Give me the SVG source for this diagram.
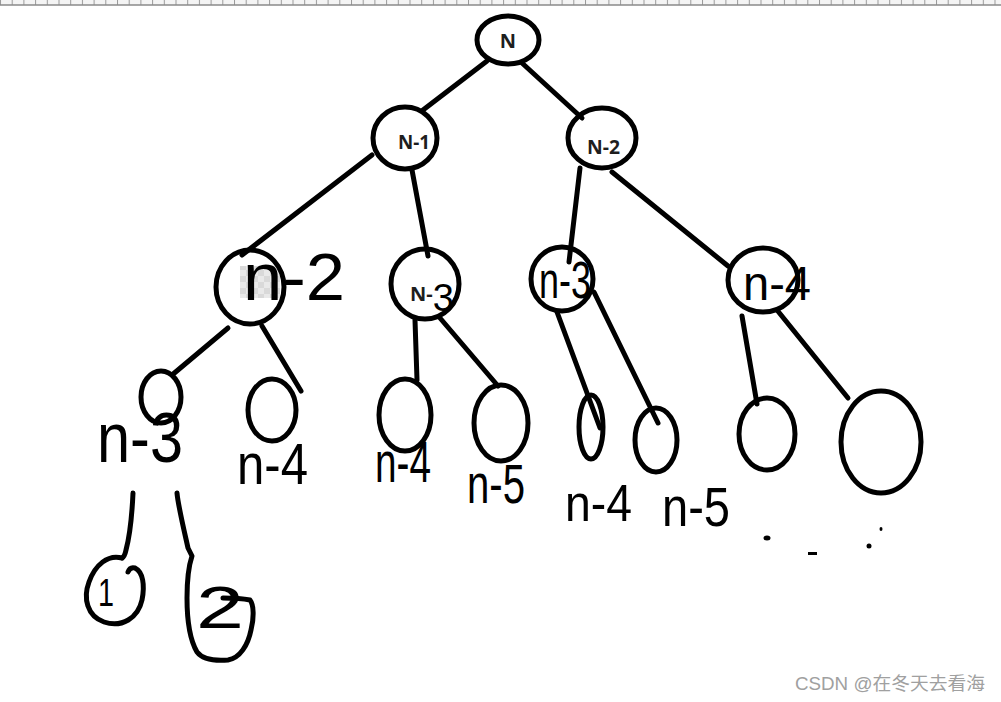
<svg xmlns="http://www.w3.org/2000/svg" width="1001" height="702" viewBox="0 0 1001 702">
<style>
.node{fill:none;stroke:#000;stroke-width:5}
.edge{fill:none;stroke:#000;stroke-width:5;stroke-linecap:round;stroke-linejoin:round}
.typed{font-family:"Open Sans","DejaVu Sans",sans-serif;font-weight:bold;font-size:20px;fill:#1e1e1e}
.hand{font-family:"Liberation Sans",Arial,sans-serif;fill:#000;font-weight:normal}
.wm{font-family:"Liberation Sans","Noto Sans CJK SC",sans-serif;font-size:18px;fill:#a0a0a0}
</style>
<defs>
<pattern id="ruler" x="0" y="0" width="11.7" height="6" patternUnits="userSpaceOnUse">
<rect x="0" y="0" width="11.7" height="6" fill="#f4f4f4"/>
<line x1="0.5" y1="0" x2="0.5" y2="5" stroke="#9a9a9a" stroke-width="1"/>
</pattern>
<pattern id="checker" x="0" y="0" width="12" height="12" patternUnits="userSpaceOnUse">
<rect width="12" height="12" fill="#e4e4e4"/>
<rect width="6" height="6" fill="#cfcfcf"/>
<rect x="6" y="6" width="6" height="6" fill="#cfcfcf"/>
</pattern>
</defs>
<rect width="1001" height="702" fill="#fff"/>
<rect x="0" y="0" width="1001" height="5" fill="url(#ruler)"/>
<line x1="0" y1="5" x2="1001" y2="5" stroke="#8a8a8a" stroke-width="1.5"/>

<g id="connectors">
<path class="edge" d="M487,61 L423,110"/>
<path class="edge" d="M522,63 L582,118"/>
<path class="edge" d="M372,155 L242,255"/>
<path class="edge" d="M412,170 L428,256"/>
<path class="edge" d="M580,168 L569,262"/>
<path class="edge" d="M612,172 L728,266"/>
<path class="edge" d="M228,328 L172,375"/>
<path class="edge" d="M262,326 L301,391"/>
<path class="edge" d="M415,320 L417,380"/>
<path class="edge" d="M440,318 L498,386"/>
<path class="edge" d="M557,312 L600,428"/>
<path class="edge" d="M594,292 L658,423"/>
<path class="edge" d="M742,316 L757,404"/>
<path class="edge" d="M777,310 L848,398"/>
<path class="edge" d="M133,493 C132,515 130,535 126,550 C125,555 124,557 122,558"/>
<path class="edge" d="M177,493 C178,505 184,530 188,548 L192,556 C188,568 187,580 187,598 C187,618 190,640 197,652 C203,660 215,661 228,660 C240,658 248,645 251,630 C254,618 254,605 250,600 C240,598 232,598 223,598"/>
</g>

<g id="node-N">
<ellipse class="node" cx="508" cy="40" rx="31" ry="24"/>
<text class="typed" x="508" y="48" text-anchor="middle">N</text>
</g>
<g id="node-N-1">
<ellipse class="node" cx="405" cy="138" rx="32" ry="31"/>
<text class="typed" x="398" y="149" textLength="32" lengthAdjust="spacingAndGlyphs">N-1</text>
</g>
<g id="node-N-2">
<ellipse class="node" cx="602" cy="138" rx="34" ry="30"/>
<text class="typed" x="587" y="154" textLength="33" lengthAdjust="spacingAndGlyphs">N-2</text>
</g>

<g id="node-n-2">
<rect x="240" y="266" width="40" height="32" fill="url(#checker)" opacity="0.8"/>
<ellipse class="node" cx="250" cy="287" rx="34" ry="37"/>
<text class="hand" x="243" y="300" font-size="66" textLength="102" lengthAdjust="spacingAndGlyphs">n-2</text>
</g>
<g id="node-N-3">
<ellipse class="node" cx="425" cy="284" rx="34" ry="35"/>
<text class="typed" x="410" y="301">N-<tspan class="hand" font-size="38" dy="10">3</tspan></text>
</g>
<g id="node-n-3">
<ellipse class="node" cx="562" cy="279" rx="31" ry="32"/>
<text class="hand" x="539" y="298" font-size="52" textLength="52" lengthAdjust="spacingAndGlyphs">n-3</text>
</g>
<g id="node-n-4">
<ellipse class="node" cx="763" cy="280" rx="35" ry="32"/>
<text class="hand" x="743" y="300" font-size="48" textLength="68" lengthAdjust="spacingAndGlyphs">n-4</text>
</g>

<g id="node-a">
<ellipse class="node" cx="161" cy="397" rx="20" ry="26"/>
<text class="hand" x="97" y="462" font-size="70" textLength="86" lengthAdjust="spacingAndGlyphs">n-3</text>
</g>
<g id="node-b">
<ellipse class="node" cx="272" cy="410" rx="24" ry="31"/>
<text class="hand" x="237" y="484" font-size="58" textLength="71" lengthAdjust="spacingAndGlyphs">n-4</text>
</g>
<g id="node-c">
<ellipse class="node" cx="405" cy="415" rx="26" ry="36"/>
<text class="hand" x="375" y="482" font-size="58" textLength="56" lengthAdjust="spacingAndGlyphs">n-4</text>
</g>
<g id="node-d">
<ellipse class="node" cx="501" cy="423" rx="27" ry="38"/>
<text class="hand" x="467" y="503" font-size="55" textLength="58" lengthAdjust="spacingAndGlyphs">n-5</text>
</g>
<g id="node-e">
<ellipse class="node" cx="591" cy="427" rx="12" ry="32"/>
<text class="hand" x="565" y="521" font-size="52" textLength="67" lengthAdjust="spacingAndGlyphs">n-4</text>
</g>
<g id="node-f">
<ellipse class="node" cx="656" cy="440" rx="21" ry="32"/>
<text class="hand" x="662" y="526" font-size="55" textLength="68" lengthAdjust="spacingAndGlyphs">n-5</text>
</g>
<g id="node-g">
<ellipse class="node" cx="767" cy="434" rx="28" ry="36"/>
</g>
<g id="node-h">
<ellipse class="node" cx="881" cy="442" rx="40" ry="51"/>
</g>

<g id="dots" fill="#000">
<ellipse cx="767" cy="538" rx="3.5" ry="2.5"/>
<rect x="808" y="552" width="9" height="3"/>
<ellipse cx="869" cy="546" rx="2.5" ry="2.5"/>
<ellipse cx="881" cy="529" rx="1.5" ry="2"/>
</g>

<g id="node-1">
<path class="edge" d="M122,558 C108,554 95,565 89,582 C83,598 87,616 104,622 C122,628 138,618 142,600 C145,585 143,572 135,568 C131,567 129,569 128,572"/>
<text class="hand" x="98" y="606" font-size="38" textLength="16" lengthAdjust="spacingAndGlyphs">1</text>
</g>
<g id="node-2">
<text class="hand" x="196" y="628" font-size="60" textLength="48" lengthAdjust="spacingAndGlyphs">2</text>
</g>

<text class="wm" x="795" y="690" textLength="190" lengthAdjust="spacingAndGlyphs">CSDN @在冬天去看海</text>
</svg>
